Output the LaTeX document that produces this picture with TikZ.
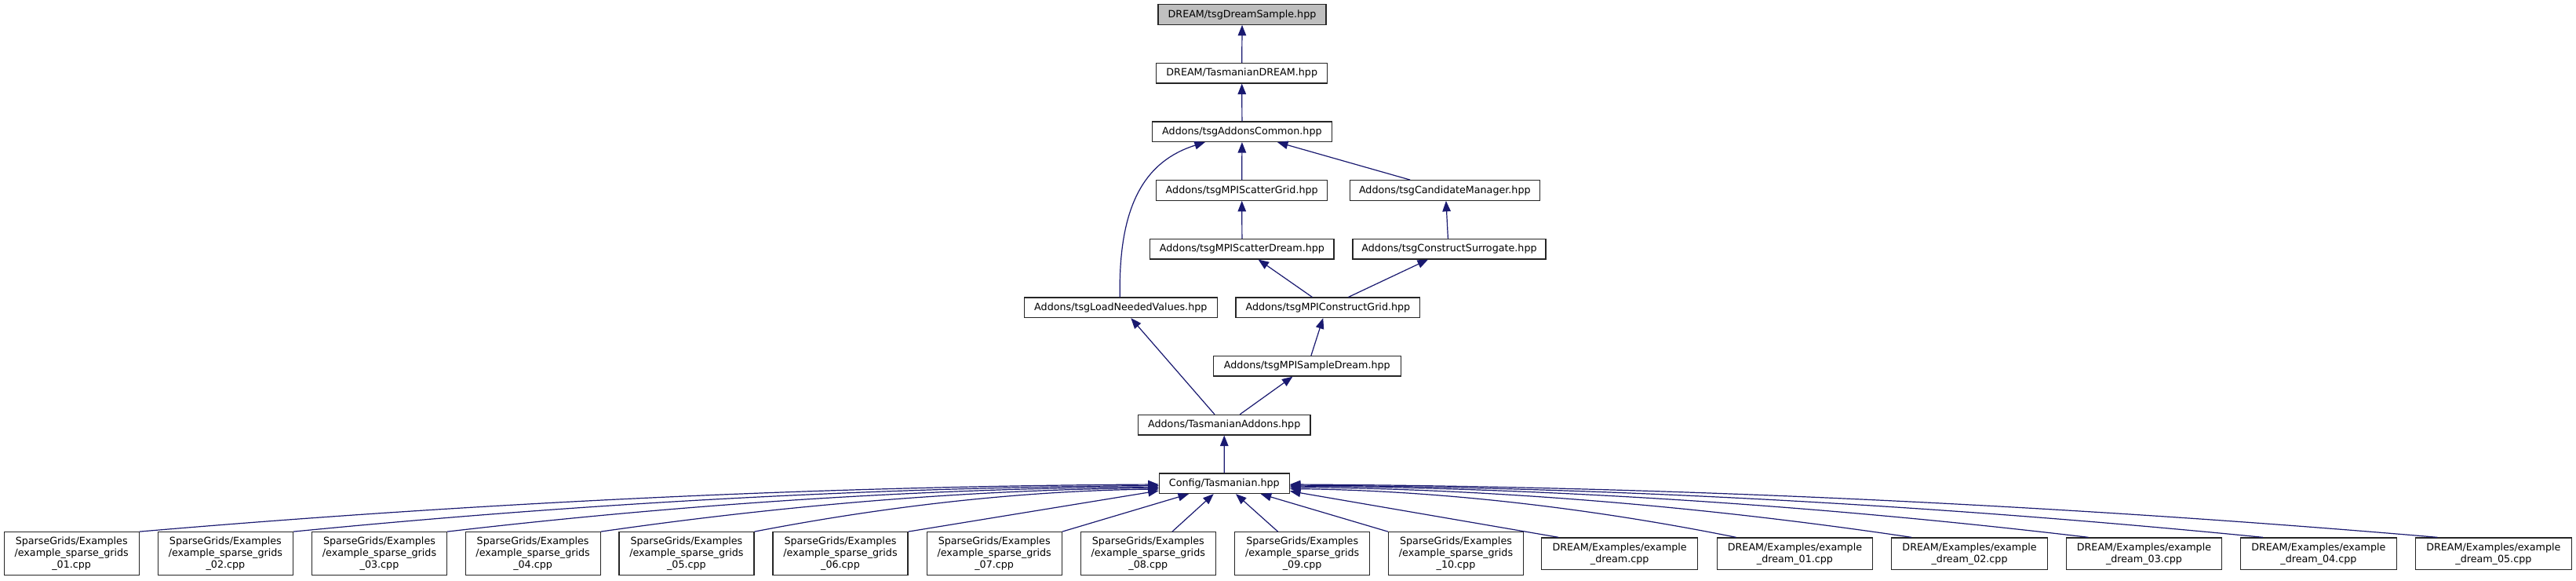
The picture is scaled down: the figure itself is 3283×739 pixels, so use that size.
\documentclass[tikz,border=0pt]{standalone}
\usepackage{fontspec}
\setmainfont{DejaVu Sans}
\usetikzlibrary{arrows.meta}
\definecolor{edgec}{HTML}{191970}
\definecolor{grayfill}{HTML}{BFBFBF}
\begin{document}
\begin{tikzpicture}[x=1pt,y=-1pt,
  box/.style={draw=black!85, line width=1.2pt, fill=white, inner sep=0pt, align=center,
    font=\fontsize{12.7}{14.8}\selectfont, minimum height=25.5pt},
  hbox/.style={box, fill=grayfill},
  sgbox/.style={box, minimum width=172pt, minimum height=55pt},
  drbox/.style={box, minimum width=198.7pt, minimum height=40.7pt},
  incl/.style={draw=edgec, line width=1.2pt, {Triangle[length=13.5pt,width=10.5pt]}-}
]
\fill[white] (0,0) rectangle (3283,739);
\useasboundingbox (0,0) rectangle (3283,739);

\node[hbox, minimum width=214pt] (ds) at (1583,18.5) {DREAM/tsgDreamSample.hpp};
\node[box, minimum width=218.3pt] (td) at (1582.7,93.2) {DREAM/TasmanianDREAM.hpp};
\node[box, minimum width=229pt] (ac) at (1582.9,167.7) {Addons/tsgAddonsCommon.hpp};
\node[box, minimum width=218.3pt] (sgr) at (1582.7,242.5) {Addons/tsgMPIScatterGrid.hpp};
\node[box, minimum width=241.8pt] (cm) at (1841.3,242.5) {Addons/tsgCandidateManager.hpp};
\node[box, minimum width=234.2pt] (sdr) at (1582.9,317.2) {Addons/tsgMPIScatterDream.hpp};
\node[box, minimum width=245.9pt] (cs) at (1847,317.2) {Addons/tsgConstructSurrogate.hpp};
\node[box, minimum width=246.4pt] (lnv) at (1428.3,391.8) {Addons/tsgLoadNeededValues.hpp};
\node[box, minimum width=234.7pt] (mcg) at (1692.4,391.8) {Addons/tsgMPIConstructGrid.hpp};
\node[box, minimum width=238.8pt] (msd) at (1665.8,466.3) {Addons/tsgMPISampleDream.hpp};
\node[box, minimum width=219.4pt] (ta) at (1560.2,541.2) {Addons/TasmanianAddons.hpp};
\node[box, minimum width=166pt] (cfg) at (1560.3,615.8) {Config/Tasmanian.hpp};

\foreach \i/\x in {01/91.2, 02/287.4, 03/483.5, 04/679.1, 05/874.9, 06/1071, 07/1267.2, 08/1463.3, 09/1659.7, 10/1855.5}
  \node[sgbox] (sg\i) at (\x,705.2) {SparseGrids/Examples\\/example\_sparse\_grids\\\_\i.cpp};

\node[drbox] (dr) at (2064.15,705.3) {DREAM/Examples/example\\\_dream.cpp};
\foreach \i/\x in {01/2287.45, 02/2510.05, 03/2732.45, 04/2954.85, 05/3177.85}
  \node[drbox] (dr\i) at (\x,705.3) {DREAM/Examples/example\\\_dream\_\i.cpp};

% upper graph
\draw[incl] (ds.south) -- (td.north);
\draw[incl] (td.south) -- (ac.north);
\draw[incl] (ac.south) -- (sgr.north);
\draw[incl] ([xshift=45pt]ac.south) -- ([xshift=-44pt]cm.north);
\draw[incl] ([xshift=-47pt]ac.south) .. controls (1460,205) and (1425,260) .. ([xshift=-1pt]lnv.north);
\draw[incl] (sgr.south) -- (sdr.north);
\draw[incl] ([xshift=1.6pt]cm.south) -- ([xshift=-1.6pt]cs.north);
\draw[incl] ([xshift=20.7pt]sdr.south) -- ([xshift=-20pt]mcg.north);
\draw[incl] ([xshift=-27pt]cs.south) -- ([xshift=26pt]mcg.north);
\draw[incl] ([xshift=13pt]lnv.south) -- ([xshift=-12.2pt]ta.north);
\draw[incl] ([xshift=-18.4pt]msd.south) -- ([xshift=19.9pt]ta.north);
\draw[incl] ([xshift=-6.2pt]mcg.south) -- ([xshift=5.1pt]msd.north);
\draw[incl] (ta.south) -- (cfg.north);

% left side of Config
\draw[incl] ([yshift=-1.2pt]cfg.west) .. controls (892.3,620) and (398.3,658.3) .. (sg01.north east);
\draw[incl] ([yshift=-2.7pt]cfg.west) .. controls (980.5,621.5) and (561.1,658.8) .. (sg02.north east);
\draw[incl] ([yshift=-4.2pt]cfg.west) .. controls (1068.8,622.9) and (723.9,659.2) .. (sg03.north east);
\draw[incl] ([yshift=-5.7pt]cfg.west) .. controls (1156.9,624.3) and (886.3,659.7) .. (sg04.north east);
\draw[incl] ([yshift=-7.2pt]cfg.west) .. controls (1245.2,625.7) and (1049.2,660.2) .. (sg05.north east);
\draw[incl] ([yshift=-9.2pt]cfg.west) -- (sg06.north east);

% bottom of Config
\draw[incl] ([xshift=-45.3pt]cfg.south) -- (sg07.north east);
\draw[incl] ([xshift=-13.6pt]cfg.south) -- ([xshift=30.6pt]sg08.north);
\draw[incl] ([xshift=14.7pt]cfg.south) -- ([xshift=-31.1pt]sg09.north);
\draw[incl] ([xshift=46.4pt]cfg.south) -- (sg10.north west);

% right side of Config
\draw[incl] ([yshift=-9.7pt]cfg.east) -- ([xshift=22pt]dr.north west);
\draw[incl] ([yshift=-6.7pt]cfg.east) .. controls (1899.7,625.6) and (2116.2,665) .. ([xshift=25pt]dr01.north west);
\draw[incl] ([yshift=-4.7pt]cfg.east) .. controls (2000.3,623.7) and (2301.7,664.4) .. ([xshift=26pt]dr02.north west);
\draw[incl] ([yshift=-3.2pt]cfg.east) .. controls (2101.7,622.3) and (2488.8,663.9) .. ([xshift=29pt]dr03.north west);
\draw[incl] ([yshift=-2.2pt]cfg.east) .. controls (2201.9,621.4) and (2673.6,663.6) .. ([xshift=29pt]dr04.north west);
\draw[incl] ([yshift=-1.2pt]cfg.east) .. controls (2302,620.4) and (2858.2,663.2) .. ([xshift=28.5pt]dr05.north west);
\end{tikzpicture}
\end{document}
